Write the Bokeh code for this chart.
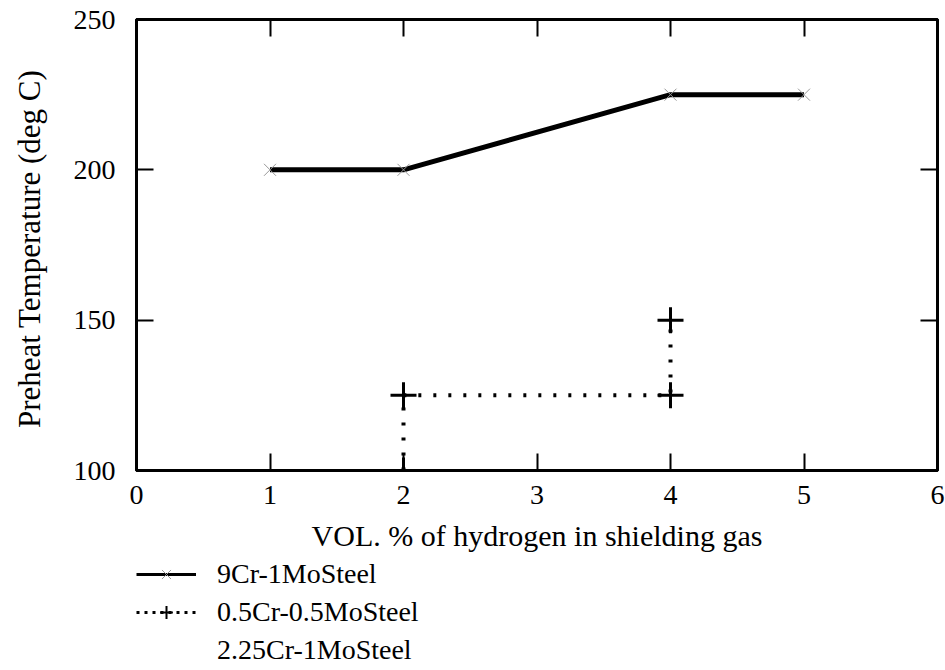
from bokeh.plotting import figure
from bokeh.layouts import column
from bokeh.models import LinearAxis, Legend, LegendItem, Range1d, FixedTicker, ColumnDataSource
from bokeh.embed import file_html
from bokeh.resources import INLINE

# ---- data ----
x_9cr = [1, 2, 4, 5]
y_9cr = [200, 200, 225, 225]
x_05cr = [2, 2, 4, 4]
y_05cr = [100, 125, 125, 150]
x_225cr = []
y_225cr = []
x_ticks = [0, 1, 2, 3, 4, 5, 6]
y_ticks = [100, 150, 200, 250]
series_labels = ["9Cr-1MoSteel", "0.5Cr-0.5MoSteel", "2.25Cr-1MoSteel"]
x_title = "VOL. % of hydrogen in shielding gas"
y_title = "Preheat Temperature  (deg C)"

FONT = "Liberation Serif"

p = figure(frame_width=801, frame_height=451, output_backend="svg", toolbar_location=None,
           x_range=Range1d(0, 6), y_range=Range1d(100, 250),
           min_border_left=136, min_border_right=8, min_border_top=19, min_border_bottom=80,
           x_axis_location=None, y_axis_location=None)
p.grid.visible = False
p.outline_line_color = "black"
p.outline_line_width = 3
p.background_fill_color = "white"
p.border_fill_color = "white"

def style(ax):
    ax.axis_line_color = "black"
    ax.axis_line_width = 3
    ax.major_tick_line_width = 2
    ax.major_tick_in = 17
    ax.major_tick_out = 0
    ax.minor_tick_line_width = 2
    ax.minor_tick_in = 17
    ax.minor_tick_out = 0
    ax.major_label_text_font = FONT
    ax.major_label_text_color = "black"
    ax.major_label_text_font_size = "28px"
    ax.axis_label_text_font = FONT
    ax.axis_label_text_font_style = "normal"
    ax.axis_label_text_color = "black"

xb = LinearAxis(ticker=FixedTicker(ticks=x_ticks), axis_label=x_title)
style(xb)
xb.minor_tick_line_color = None
xb.major_label_standoff = 15
xb.axis_label_text_font_size = "30px"
xb.axis_label_standoff = 12
p.add_layout(xb, "below")

yl = LinearAxis(ticker=FixedTicker(ticks=y_ticks), axis_label=y_title)
style(yl)
yl.minor_tick_line_color = None
yl.major_label_standoff = 21
yl.axis_label_text_font_size = "31px"
yl.axis_label_standoff = 24
p.add_layout(yl, "left")

# top / right frame ticks (unlabelled): use minor ticks only
xt = LinearAxis(ticker=FixedTicker(ticks=[], minor_ticks=x_ticks))
style(xt)
p.add_layout(xt, "above")
yr = LinearAxis(ticker=FixedTicker(ticks=[], minor_ticks=y_ticks))
style(yr)
p.add_layout(yr, "right")

s1 = ColumnDataSource(dict(x=x_9cr, y=y_9cr))
s2 = ColumnDataSource(dict(x=x_05cr, y=y_05cr))
s3 = ColumnDataSource(dict(x=x_225cr, y=y_225cr))

STY1 = dict(line_color="black", line_width=5)
MST1 = dict(marker="x", size=17, line_color="#999999", line_width=1)
STY2 = dict(line_color="black", line_width=4, line_dash="3 12")
MST2 = dict(marker="cross", size=26, line_color="black", line_width=3)

p.line("x", "y", source=s1, **STY1)
p.scatter("x", "y", source=s1, **MST1)
p.line("x", "y", source=s2, **STY2)
p.scatter("x", "y", source=s2, **MST2)
p.line("x", "y", source=s3, line_color="black", line_alpha=0)

# ---- legend strip below the chart (same sources, drawn out of view; only the legend shows) ----
H_MAIN = 19 + 451 + 80
q = figure(width=945, height=670 - H_MAIN, output_backend="svg", toolbar_location=None,
           x_range=Range1d(-20, -19), y_range=Range1d(-20, -19),
           min_border=0, x_axis_location=None, y_axis_location=None)
q.grid.visible = False
q.outline_line_color = None
q.background_fill_color = "white"
q.border_fill_color = "white"

g1 = q.line("x", "y", source=s1, line_color="black", line_width=3)
g1m = q.scatter("x", "y", source=s1, **MST1)
g2 = q.line("x", "y", source=s2, line_color="black", line_width=3, line_dash="3 5")
g2m = q.scatter("x", "y", source=s2, marker="cross", size=20, line_color="black", line_width=2)
g3 = q.line("x", "y", source=s3, line_color="black", line_alpha=0)

legend = Legend(items=[
    LegendItem(label=series_labels[0], renderers=[g1, g1m]),
    LegendItem(label=series_labels[1], renderers=[g2, g2m]),
    LegendItem(label=series_labels[2], renderers=[g3]),
], location=(0, 8), orientation="vertical")
legend.label_text_font = FONT
legend.label_text_font_size = "28px"
legend.label_text_color = "black"
legend.glyph_width = 60
legend.glyph_height = 32
legend.spacing = 6
legend.padding = 0
legend.margin = 0
legend.label_standoff = 21
legend.border_line_color = None
legend.background_fill_alpha = 0
q.add_layout(legend, "center")

layout = column(p, q, spacing=0)
open("out.html", "w").write(file_html(layout, INLINE))
